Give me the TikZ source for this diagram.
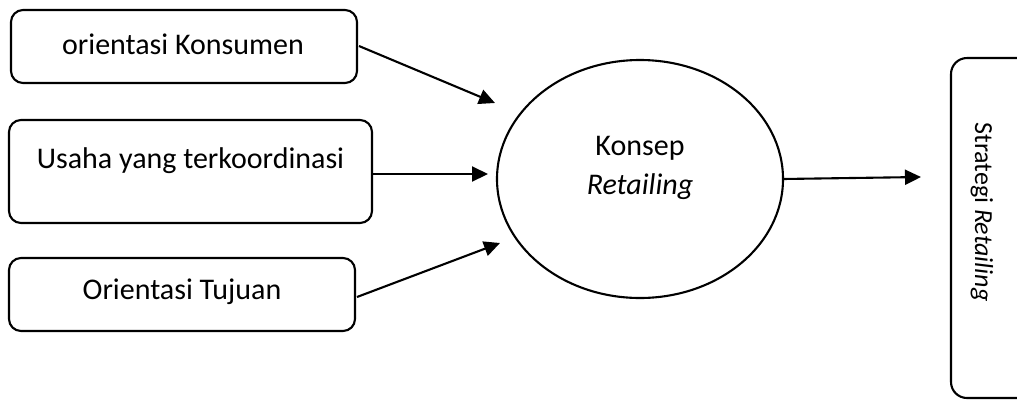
\documentclass[tikz,border=0pt]{standalone}
\usepackage{fontspec}
\setmainfont{Carlito}
\usetikzlibrary{arrows.meta,shapes.geometric}
\begin{document}
\begin{tikzpicture}[x=1pt,y=-1pt,
  every node/.style={inner sep=0pt, outer sep=0pt},
  box/.style={draw, line width=2.1pt, rounded corners=12pt},
  lbl/.style={font=\fontsize{30}{39}\selectfont, align=center},
  arr/.style={line width=2.1pt, -{Triangle[length=16pt,width=15pt]}}]
\clip (0,0) rectangle (1017,400);
\useasboundingbox (0,0) rectangle (1017,400);
% left boxes
\node[box, minimum width=346, minimum height=73] (b1) at (184,46.5) {};
\node[lbl] (t1) at (183,44) {orientasi Konsumen};
\node[box, minimum width=363, minimum height=103] (b2) at (190.5,171.5) {};
\node[lbl] (t2) at (190.5,161) {Usaha yang terkoordinasi};
\node[box, minimum width=346, minimum height=73] (b3) at (182,294.5) {};
\node[lbl] (t3) at (182,292) {Orientasi Tujuan};
% ellipse
\node[draw, ellipse, line width=2.1pt, minimum width=286, minimum height=238] (e) at (640,179) {};
\node[lbl] (te) at (640,168) {Konsep\\\itshape Retailing};
% right box (cut off at the page edge)
\node[box, rounded corners=16pt, minimum width=100, minimum height=340] (r) at (1001,228) {};
\node[font=\fontsize{26}{30}\selectfont, rotate=-90] (tr) at (982,212) {Strategi \itshape Retailing};
% arrow targets
\coordinate (p1) at (495,103);
\coordinate (p2) at (488,174);
\coordinate (p3) at (500,243);
\coordinate (p4) at (921,177);
\coordinate (s1) at (359,46);
\coordinate (s3) at (357,297);
\draw[arr] (s1) -- (p1);
\draw[arr] (b2.east |- p2) -- (p2);
\draw[arr] (s3) -- (p3);
\draw[arr] (e.east) -- (p4);
\end{tikzpicture}
\end{document}
